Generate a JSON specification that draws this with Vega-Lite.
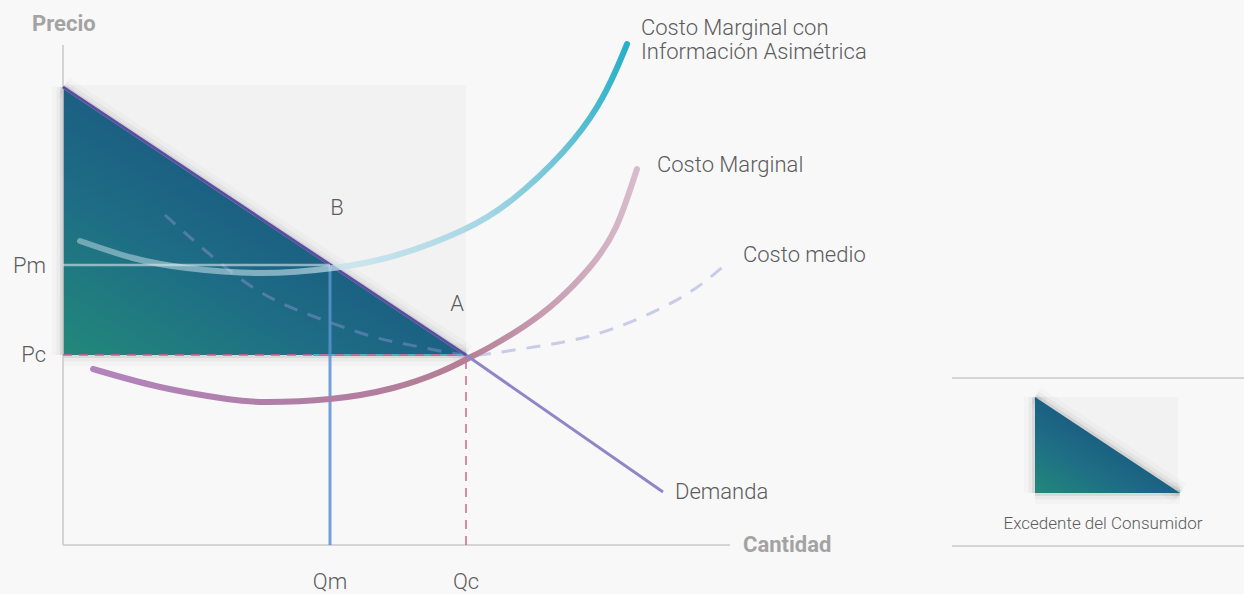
{
  "$schema": "https://vega.github.io/schema/vega-lite/v6.json",
  "width": 1244,
  "height": 594,
  "padding": 0,
  "autosize": {"type": "none"},
  "background": "#f8f8f8",
  "config": {"view": {"stroke": null}},
  "datasets": {
    "rects": [
      {"X": 0, "Y": 190, "X2": 403, "Y2": 460, "panel": "main"},
      {"X": 972, "Y": 52, "X2": 1115, "Y2": 148, "panel": "legend"}
    ],
    "edges": [
      {"X": 0, "Y": 458, "X2": 403, "Y2": 190},
      {"X": 0, "Y": 190, "X2": 403, "Y2": 190},
      {"X": 0, "Y": 458, "X2": 0, "Y2": 190},
      {"X": 972, "Y": 148, "X2": 1117, "Y2": 52},
      {"X": 972, "Y": 52, "X2": 1117, "Y2": 52},
      {"X": 972, "Y": 148, "X2": 972, "Y2": 52}
    ],
    "triangles": [
      {"X": 0, "Y": 458, "Y2": 190, "panel": "main"},
      {"X": 403, "Y": 190, "Y2": 190, "panel": "main"},
      {"X": 972, "Y": 148, "Y2": 52, "panel": "legend"},
      {"X": 1117, "Y": 52, "Y2": 52, "panel": "legend"}
    ],
    "frame": [
      {"X": 0, "Y": 0, "X2": 0, "Y2": 500},
      {"X": 0, "Y": 0, "X2": 667, "Y2": 0},
      {"X": 889, "Y": 167, "X2": 1181, "Y2": 167},
      {"X": 889, "Y": -1, "X2": 1181, "Y2": -1}
    ],
    "pm": [{"X": 0, "Y": 280, "X2": 267, "Y2": 280}],
    "qm": [{"X": 267, "Y": 0, "X2": 267, "Y2": 280}],
    "pcqc": [
      {"X": 0, "Y": 190, "X2": 403, "Y2": 190},
      {"X": 403, "Y": 0, "X2": 403, "Y2": 190}
    ],
    "cyanedge": [{"X": 250, "Y": 190, "X2": 403, "Y2": 190}],
    "demand": [
      {"X": 0, "Y": 458},
      {"X": 403, "Y": 190},
      {"X": 600, "Y": 53}
    ],
    "demandTop": [{"X": 0, "Y": 458, "X2": 403, "Y2": 190}],
    "cmeMedio": [
      {"X": 102, "Y": 330}, {"X": 144, "Y": 293}, {"X": 194, "Y": 255},
      {"X": 247, "Y": 230}, {"X": 304, "Y": 210}, {"X": 337, "Y": 202},
      {"X": 377, "Y": 194}, {"X": 403, "Y": 190}, {"X": 424, "Y": 191},
      {"X": 477, "Y": 199}, {"X": 527, "Y": 209}, {"X": 577, "Y": 227},
      {"X": 627, "Y": 253}, {"X": 664, "Y": 282}
    ],
    "cmg": [
      {"X": 30, "Y": 176}, {"X": 97, "Y": 158}, {"X": 164, "Y": 146},
      {"X": 204, "Y": 143}, {"X": 267, "Y": 146}, {"X": 330, "Y": 157},
      {"X": 377, "Y": 173}, {"X": 404, "Y": 186}, {"X": 427, "Y": 198},
      {"X": 460, "Y": 218}, {"X": 494, "Y": 244}, {"X": 527, "Y": 278},
      {"X": 553, "Y": 318}, {"X": 574, "Y": 376}
    ],
    "cmgAsim": [
      {"X": 17, "Y": 304}, {"X": 70, "Y": 287}, {"X": 124, "Y": 277},
      {"X": 197, "Y": 272}, {"X": 270, "Y": 277}, {"X": 334, "Y": 290},
      {"X": 400, "Y": 315}, {"X": 450, "Y": 346}, {"X": 500, "Y": 393},
      {"X": 534, "Y": 438}, {"X": 553, "Y": 475}, {"X": 564, "Y": 501}
    ],
    "texts": [
      {"X": -31, "Y": 521, "label": "Precio", "role": "title"},
      {"X": 680, "Y": 0, "label": "Cantidad", "role": "title"},
      {"X": -17, "Y": 279, "label": "Pm", "role": "ylab"},
      {"X": -17, "Y": 190, "label": "Pc", "role": "ylab"},
      {"X": 267, "Y": -37, "label": "Qm", "role": "clab"},
      {"X": 403, "Y": -37, "label": "Qc", "role": "clab"},
      {"X": 274, "Y": 337, "label": "B", "role": "clab"},
      {"X": 394, "Y": 241, "label": "A", "role": "clab"},
      {"X": 578, "Y": 517, "label": "Costo Marginal con", "role": "curve"},
      {"X": 578, "Y": 493, "label": "Información Asimétrica", "role": "curve"},
      {"X": 594, "Y": 380, "label": "Costo Marginal", "role": "curve"},
      {"X": 680, "Y": 290, "label": "Costo medio", "role": "curve"},
      {"X": 612, "Y": 53, "label": "Demanda", "role": "curve"},
      {"X": 1040, "Y": 21, "label": "Excedente del Consumidor", "role": "legend"}
    ]
  },
  "encoding": {
    "x": {"field": "X", "type": "quantitative", "axis": null, "scale": {"domain": [-63, 1181], "nice": false, "zero": false}},
    "y": {"field": "Y", "type": "quantitative", "axis": null, "scale": {"domain": [-49, 545], "nice": false, "zero": false}}
  },
  "layer": [
    {
      "data": {"name": "rects"},
      "mark": {"type": "rect", "color": "#f3f2f2"},
      "encoding": {"x2": {"field": "X2"}, "y2": {"field": "Y2"}}
    },
    {
      "data": {"name": "edges"},
      "mark": {"type": "rule", "color": "#000000", "strokeWidth": 22, "opacity": 0.018},
      "encoding": {"x2": {"field": "X2"}, "y2": {"field": "Y2"}}
    },
    {
      "data": {"name": "edges"},
      "mark": {"type": "rule", "color": "#000000", "strokeWidth": 13, "opacity": 0.035},
      "encoding": {"x2": {"field": "X2"}, "y2": {"field": "Y2"}}
    },
    {
      "data": {"name": "edges"},
      "mark": {"type": "rule", "color": "#000000", "strokeWidth": 6, "opacity": 0.07},
      "encoding": {"x2": {"field": "X2"}, "y2": {"field": "Y2"}}
    },
    {
      "data": {"name": "triangles"},
      "mark": {
        "type": "area",
        "color": {
          "gradient": "linear",
          "x1": 0, "y1": 1, "x2": 0.6, "y2": 0.35,
          "stops": [
            {"offset": 0, "color": "#22897a"},
            {"offset": 0.5, "color": "#1e6d85"},
            {"offset": 1, "color": "#1a5880"}
          ]
        }
      },
      "encoding": {"y2": {"field": "Y2"}, "detail": {"field": "panel"}}
    },
    {
      "data": {"name": "frame"},
      "mark": {"type": "rule", "color": "#c9c9c9", "strokeWidth": 1.5},
      "encoding": {"x2": {"field": "X2"}, "y2": {"field": "Y2"}}
    },
    {
      "data": {"name": "cyanedge"},
      "mark": {"type": "rule", "color": "#3cb7cd", "strokeWidth": 2},
      "encoding": {"x2": {"field": "X2"}, "y2": {"field": "Y2"}}
    },
    {
      "data": {"name": "qm"},
      "mark": {"type": "rule", "color": "#5a93d0", "strokeWidth": 3, "opacity": 0.85},
      "encoding": {"x2": {"field": "X2"}, "y2": {"field": "Y2"}}
    },
    {
      "data": {"name": "pcqc"},
      "mark": {"type": "rule", "color": "#d4628f", "strokeWidth": 1.5, "strokeDash": [9, 7]},
      "encoding": {"x2": {"field": "X2"}, "y2": {"field": "Y2"}}
    },
    {
      "data": {"name": "cmeMedio"},
      "mark": {"type": "line", "interpolate": "natural", "color": "#8f96d2", "opacity": 0.45, "strokeWidth": 3, "strokeDash": [14, 11]}
    },
    {
      "data": {"name": "cmg"},
      "mark": {
        "type": "line",
        "interpolate": "natural",
        "strokeWidth": 6,
        "strokeCap": "round",
        "stroke": {
          "gradient": "linear",
          "x1": 0, "y1": 0, "x2": 1, "y2": 0,
          "stops": [
            {"offset": 0, "color": "#b184bd"},
            {"offset": 0.35, "color": "#b07ea6"},
            {"offset": 0.68, "color": "#b57e95"},
            {"offset": 0.85, "color": "#c9a1b4"},
            {"offset": 1, "color": "#d8bccc"}
          ]
        }
      }
    },
    {
      "data": {"name": "demand"},
      "mark": {"type": "line", "color": "#8e86c7", "strokeWidth": 3}
    },
    {
      "data": {"name": "demandTop"},
      "mark": {"type": "rule", "color": "#5a4c9e", "strokeWidth": 2.5},
      "encoding": {"x2": {"field": "X2"}, "y2": {"field": "Y2"}}
    },
    {
      "data": {"name": "cmgAsim"},
      "mark": {
        "type": "line",
        "interpolate": "natural",
        "strokeWidth": 6,
        "strokeCap": "round",
        "stroke": {
          "gradient": "linear",
          "x1": 0, "y1": 0, "x2": 1, "y2": 0,
          "stops": [
            {"offset": 0, "color": "rgba(215,232,240,0.45)"},
            {"offset": 0.4, "color": "rgba(200,228,238,0.6)"},
            {"offset": 0.6, "color": "rgba(185,222,234,0.95)"},
            {"offset": 0.75, "color": "#a3d5e3"},
            {"offset": 0.88, "color": "#6cc4d6"},
            {"offset": 1, "color": "#27b0c8"}
          ]
        }
      }
    },
    {
      "data": {"name": "pm"},
      "mark": {"type": "rule", "color": "#d9eaf1", "strokeWidth": 2.5, "opacity": 0.6},
      "encoding": {"x2": {"field": "X2"}, "y2": {"field": "Y2"}}
    },
    {
      "data": {"name": "texts"},
      "transform": [{"filter": "datum.role === 'title'"}],
      "mark": {"type": "text", "align": "left", "baseline": "middle", "font": "Roboto", "fontSize": 22, "fontWeight": "bold", "color": "#a3a3a3"},
      "encoding": {"text": {"field": "label"}}
    },
    {
      "data": {"name": "texts"},
      "transform": [{"filter": "datum.role === 'ylab'"}],
      "mark": {"type": "text", "align": "right", "baseline": "middle", "font": "Roboto", "fontSize": 22, "fontWeight": 300, "color": "#5c5c5c"},
      "encoding": {"text": {"field": "label"}}
    },
    {
      "data": {"name": "texts"},
      "transform": [{"filter": "datum.role === 'clab'"}],
      "mark": {"type": "text", "align": "center", "baseline": "middle", "font": "Roboto", "fontSize": 22, "fontWeight": 300, "color": "#5c5c5c"},
      "encoding": {"text": {"field": "label"}}
    },
    {
      "data": {"name": "texts"},
      "transform": [{"filter": "datum.role === 'curve'"}],
      "mark": {"type": "text", "align": "left", "baseline": "middle", "font": "Roboto", "fontSize": 22, "fontWeight": 300, "color": "#5c5c5c"},
      "encoding": {"text": {"field": "label"}}
    },
    {
      "data": {"name": "texts"},
      "transform": [{"filter": "datum.role === 'legend'"}],
      "mark": {"type": "text", "align": "center", "baseline": "middle", "font": "Roboto", "fontSize": 17, "fontWeight": 300, "color": "#5c5c5c"},
      "encoding": {"text": {"field": "label"}}
    }
  ]
}
